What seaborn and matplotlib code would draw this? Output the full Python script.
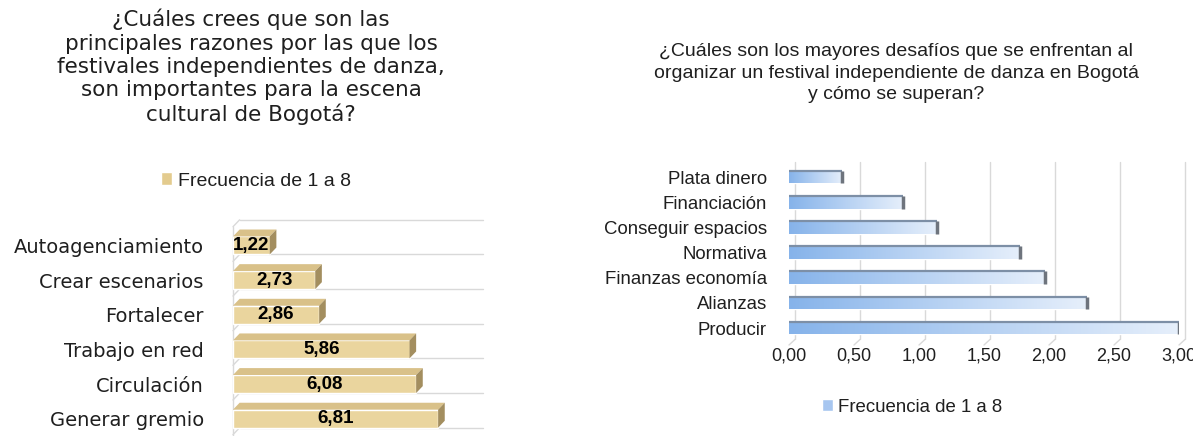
import numpy as np
import seaborn as sns
import matplotlib.pyplot as plt
from matplotlib.patches import Patch, Polygon
from matplotlib.colors import LinearSegmentedColormap

# datos
razones = ['Autoagenciamiento', 'Crear escenarios', 'Fortalecer',
           'Trabajo en red', 'Circulación', 'Generar gremio']
razones_frec = [1.22, 2.73, 2.86, 5.86, 6.08, 6.81]

desafios = ['Plata dinero', 'Financiación', 'Conseguir espacios', 'Normativa',
            'Finanzas economía', 'Alianzas', 'Producir']
desafios_frec = [0.41, 0.88, 1.14, 1.78, 1.97, 2.29, 3.00]
desafios_ticks = [0.0, 0.5, 1.0, 1.5, 2.0, 2.5, 3.0]

titulo1 = ('¿Cuáles crees que son las\nprincipales razones por las que los\n'
           'festivales independientes de danza,\nson importantes para la escena\n'
           'cultural de Bogotá?')
titulo2 = ('¿Cuáles son los mayores desafíos que se enfrentan al\n'
           'organizar un festival independiente de danza en Bogotá\n'
           'y cómo se superan?')
leyenda = 'Frecuencia de 1 a 8'

sns.set_theme(style='white')
plt.rcParams['font.family'] = ['DejaVu Sans']
arial = ['Liberation Sans', 'DejaVu Sans']
txt_color = '#1f1f1f'
grid_color = '#d9d9d9'

W, H = 1193, 436
fig = plt.figure(figsize=(W / 100, H / 100), dpi=100)
fig.patch.set_facecolor('white')

# ---------------- grafico izquierdo (barras 3D tipo madera)
ax1 = fig.add_axes([233 / W, 0, 250 / W, 220 / H])
sns.barplot(x=razones_frec, y=razones, orient='h', color='#EAD59E', width=0.52,
            saturation=1, ax=ax1, zorder=3)
ax1.set_xlim(0, 8.3)
ax1.set_ylim(5.5, -0.85)

dx, dy = 0.22, 0.2
for g in np.arange(-0.74, 5.5, 1.0):
    ax1.plot([0, dx], [g + dy, g], color=grid_color, lw=1, zorder=1, clip_on=False)
    ax1.plot([dx, 8.3], [g, g], color=grid_color, lw=1, zorder=1, clip_on=False)
ax1.plot([0, 0], [-0.74 + dy, 5.5], color=grid_color, lw=1, zorder=1, clip_on=False)

for p, v in zip(ax1.patches, razones_frec):
    x0, y0, w, h = p.get_x(), p.get_y(), p.get_width(), p.get_height()
    ax1.add_patch(Polygon([(x0, y0), (x0 + dx, y0 - dy), (x0 + w + dx, y0 - dy), (x0 + w, y0)],
                          closed=True, facecolor='#D9C189', edgecolor='none', zorder=3))
    ax1.add_patch(Polygon([(x0 + w, y0), (x0 + w + dx, y0 - dy), (x0 + w + dx, y0 + h - dy),
                           (x0 + w, y0 + h)], closed=True, facecolor='#A38E5F',
                          edgecolor='none', zorder=3))
    ax1.text(x0 + w / 2, y0 + h / 2, f'{v:.2f}'.replace('.', ','), ha='center', va='center',
             fontsize=13.5, weight='bold', family=arial, color='black', zorder=5)

ax1.set_xticks([])
ax1.set_xlabel('')
ax1.set_ylabel('')
ax1.tick_params(axis='y', length=0, pad=21, labelsize=14, labelcolor=txt_color)
sns.despine(ax=ax1, left=True, bottom=True)

fig.text(251 / W, 1 - 9 / H, titulo1, ha='center', va='top', fontsize=15.5,
         linespacing=1.2, color=txt_color)
fig.legend(handles=[Patch(facecolor='#E3CB8E', label=leyenda)], loc='center',
           bbox_to_anchor=(256 / W, 1 - 181 / H), frameon=False, handlelength=0.6,
           handleheight=0.6, handletextpad=0.3, labelcolor=txt_color,
           prop={'family': arial, 'size': 14})

# ---------------- grafico derecho (barras azules con degradado)
ax2 = fig.add_axes([789 / W, 1 - 345 / H, 390 / W, 183 / H])
sns.barplot(x=desafios_frec, y=desafios, orient='h', color='#B7D0F2', width=0.5,
            saturation=1, ax=ax2, zorder=3)

off = 0.046
for t in desafios_ticks:
    ax2.plot([t + off, t + off], [-0.6, 6.45], color=grid_color, lw=1, zorder=1, clip_on=False)
    ax2.plot([t, t + off], [6.67, 6.45], color=grid_color, lw=1, zorder=1, clip_on=False)

azul = LinearSegmentedColormap.from_list('azul', ['#86B3EA', '#E6EFFB'])
grad = np.linspace(0, 1, 256).reshape(1, -1)
for p in ax2.patches:
    x0, y0, w, h = p.get_x(), p.get_y(), p.get_width(), p.get_height()
    im = ax2.imshow(grad, extent=[x0, x0 + w, y0 + h, y0], aspect='auto', cmap=azul,
                    zorder=4, interpolation='bilinear')
    im.set_clip_path(p)
    ax2.plot([x0, x0 + w], [y0, y0], color='#7d8fa6', lw=1.6, zorder=5, solid_capstyle='butt')
    ax2.plot([x0 + w, x0 + w], [y0, y0 + h], color='#6e747d', lw=2.5, zorder=5,
             solid_capstyle='butt')

ax2.set_xlim(0, 3.0)
ax2.set_ylim(6.67, -0.6)
ax2.set_aspect('auto')
ax2.set_xticks(desafios_ticks)
ax2.set_xticklabels([f'{t:.2f}'.replace('.', ',') for t in desafios_ticks], family=arial)
for lbl in ax2.get_yticklabels():
    lbl.set_family(arial)
ax2.set_xlabel('')
ax2.set_ylabel('')
ax2.tick_params(axis='x', length=0, pad=2, labelsize=13, labelcolor=txt_color)
ax2.tick_params(axis='y', length=0, pad=16, labelsize=13.4, labelcolor=txt_color)
sns.despine(ax=ax2, left=True, bottom=True)

fig.text(896 / W, 1 - 43 / H, titulo2, ha='center', va='top', fontsize=14, family=arial,
         linespacing=1.35, color=txt_color)
fig.legend(handles=[Patch(facecolor='#A7C6F0', label=leyenda)], loc='center',
           bbox_to_anchor=(912 / W, 1 - 407 / H), frameon=False, handlelength=0.6,
           handleheight=0.6, handletextpad=0.3, labelcolor=txt_color,
           prop={'family': arial, 'size': 13.4})

fig.savefig('out.png', dpi=100, facecolor='white')
